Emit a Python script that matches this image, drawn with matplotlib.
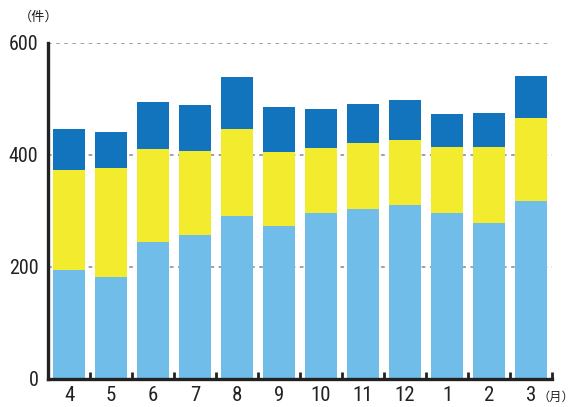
import matplotlib
matplotlib.use("Agg")
from matplotlib import pyplot as plt
import numpy as np

months = ['4', '5', '6', '7', '8', '9', '10', '11', '12', '1', '2', '3']
light = [194, 182, 244, 257, 291, 273, 296, 303, 310, 296, 278, 317]
yellow = [179, 194, 166, 151, 155, 132, 116, 118, 116, 118, 136, 149]
dark = [73, 65, 84, 81, 93, 80, 71, 70, 72, 59, 61, 75]

plt.rcParams['font.family'] = ['Roboto Condensed', 'Noto Sans CJK JP', 'DejaVu Sans']

fig = plt.figure(figsize=(5.75, 4.07), dpi=100)
ax = fig.add_axes([0.0835, 0.0688, 0.8765, 0.8256])

x = np.arange(len(months))
w = 0.74
light = np.array(light)
yellow = np.array(yellow)
dark = np.array(dark)
ax.bar(x, light, w, color='#71bde9', zorder=2)
ax.bar(x, yellow, w, bottom=light, color='#f3eb2e', zorder=2)
ax.bar(x, dark, w, bottom=light + yellow, color='#1174bc', zorder=2)

ax.set_xlim(-0.5, 11.5)
ax.set_ylim(0, 600)
ax.set_yticks([0, 200, 400, 600])
ax.set_yticklabels(['0', '200', '400', '600'], fontsize=14.5, color='#222222')
ax.tick_params(axis='y', length=0, pad=7)

ax.set_xticks(x)
ax.set_xticklabels(months, fontsize=15, color='#222222')
ax.tick_params(axis='x', which='major', length=0, pad=5)
ax.set_xticks(np.arange(-0.5, 12, 1), minor=True)
ax.tick_params(axis='x', which='minor', direction='in', length=5, width=2, color='#222222')

for yv in [200, 400, 600]:
    ax.axhline(yv, color='#999999', linestyle=(0, (2, 2.5)), linewidth=1.3, zorder=1)

for s in ['top', 'right']:
    ax.spines[s].set_visible(False)
ax.spines['left'].set_linewidth(2.4)
ax.spines['bottom'].set_linewidth(2.4)
ax.spines['left'].set_color('#222222')
ax.spines['bottom'].set_color('#222222')

cjk = ['Noto Sans CJK JP', 'DejaVu Sans']
fig.text(0.032, 0.958, '（件）', fontsize=9.5, family=cjk, color='#222222', va='center')
fig.text(0.999, 0.024, '（月）', fontsize=8.8, family=cjk, color='#222222', va='center', ha='right')

fig.savefig('out.png', dpi=100)
